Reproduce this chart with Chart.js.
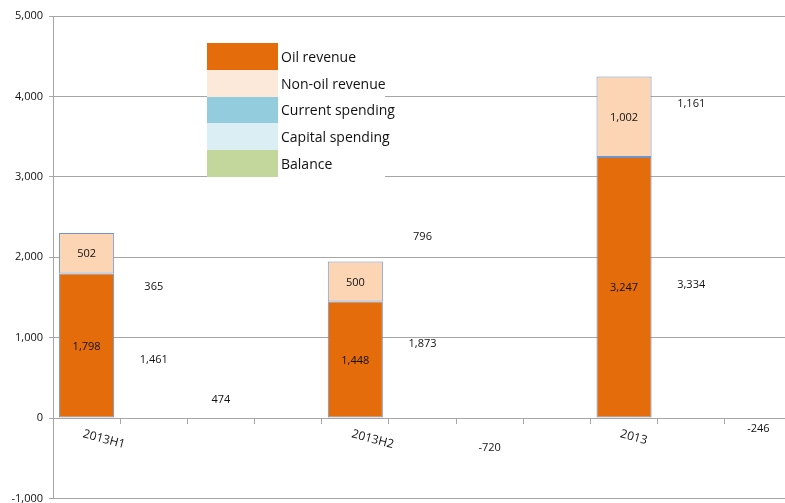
<!DOCTYPE html>
<html>
<head>
<meta charset="utf-8">
<script src="https://cdn.jsdelivr.net/npm/chart.js@4/dist/chart.umd.min.js"></script>
<style>
  html, body { margin: 0; padding: 0; overflow: hidden; background: #fff; }
  #wrap { position: relative; width: 800px; height: 511px; }
  #legend { position: absolute; left: 207px; top: 43px; width: 178px; background: #fff;
            font-family: "Open Sans", sans-serif; font-size: 14px; color: #111; }
  .row { display: flex; align-items: center; height: 26.8px; white-space: nowrap; }
  .sw { flex: 0 0 71px; width: 71px; height: 100%; margin-right: 3px; }
</style>
</head>
<body>
<div id="wrap">
  <canvas id="c"></canvas>
  <div id="legend"></div>
</div>
<script>
// ---- data ----
const periods = ['2013H1', '2013H2', '2013'];
const oilRevenue = [1798, 1448, 3247];
const nonOilRevenue = [502, 500, 1002];
const currentSpending = [1461, 1873, 3334];
const capitalSpending = [365, 796, 1161];
const balance = [474, -720, -246];
const seriesNames = ['Oil revenue', 'Non-oil revenue', 'Current spending', 'Capital spending', 'Balance'];
const legendColors = ['#E46C0A', '#FDE9DA', '#93CDDD', '#DBEEF4', '#C3D69B'];
const yTicks = [-1000, 0, 1000, 2000, 3000, 4000, 5000];

// each period occupies 4 slots: revenue, spending, balance, gap (last gap dropped)
const slotsPer = 4;
const nSlots = periods.length * slotsPer - 1;
const categories = [];
for (let i = 0; i < nSlots; i++) categories.push(i % slotsPer === 0 ? periods[i / slotsPer] : '');
function place(values, offset) {
  const arr = new Array(nSlots).fill(null);
  values.forEach((v, p) => { arr[p * slotsPer + offset] = v; });
  return arr;
}

const fmt = v => Math.round(v).toLocaleString('en-US');
const TEXT = '#111';
const GRID = '#A6A6A6';
const FONT = '"Open Sans", sans-serif';

const barBorder = '#7094CC';
const datasets = [
  { label: seriesNames[0], data: place(oilRevenue, 0), backgroundColor: '#E46C0A', borderColor: barBorder, borderWidth: 1, borderSkipped: false },
  { label: seriesNames[1], data: place(nonOilRevenue, 0), backgroundColor: '#FCD5B5', borderColor: barBorder, borderWidth: 1, borderSkipped: false },
  { label: seriesNames[2], data: place(currentSpending, 1), backgroundColor: 'rgba(0,0,0,0)', borderWidth: 0 },
  { label: seriesNames[3], data: place(capitalSpending, 1), backgroundColor: 'rgba(0,0,0,0)', borderWidth: 0 },
  { label: seriesNames[4], data: place(balance, 2), backgroundColor: 'rgba(0,0,0,0)', borderWidth: 0 }
];

// legend (HTML)
const lg = document.getElementById('legend');
seriesNames.forEach((n, i) => {
  const r = document.createElement('div'); r.className = 'row';
  const s = document.createElement('div'); s.className = 'sw'; s.style.background = legendColors[i];
  const t = document.createElement('span'); t.textContent = n;
  r.appendChild(s); r.appendChild(t); lg.appendChild(r);
});

const labelPlugin = {
  id: 'labels',
  afterDatasetsDraw(chart) {
    const ctx = chart.ctx;
    ctx.save();
    ctx.font = '11px ' + FONT;
    ctx.fillStyle = TEXT;
    ctx.textAlign = 'center';
    ctx.textBaseline = 'middle';
    chart.data.datasets.forEach((ds, di) => {
      const meta = chart.getDatasetMeta(di);
      meta.data.forEach((el, i) => {
        const v = ds.data[i];
        if (v === null || v === undefined) return;
        const p = el.getProps(['x', 'y', 'base'], true);
        ctx.fillText(fmt(v), p.x, (p.y + p.base) / 2 + 1);
      });
    });
    // rotated category labels
    const xs = chart.scales.x, ys = chart.scales.y;
    const y0 = ys.getPixelForValue(0);
    ctx.font = '12px ' + FONT;
    ctx.textAlign = 'left';
    ctx.textBaseline = 'top';
    categories.forEach((c, i) => {
      if (!c) return;
      ctx.save();
      ctx.translate(xs.getPixelForValue(i) - 2, y0 + 10);
      ctx.rotate(15 * Math.PI / 180);
      ctx.fillText(c, 0, 0);
      ctx.restore();
    });
    ctx.restore();
  }
};

new Chart(document.getElementById('c'), {
  type: 'bar',
  data: { labels: categories, datasets },
  options: {
    responsive: true,
    maintainAspectRatio: false,
    animation: false,
    layout: { padding: { top: 16, right: 8, bottom: 6, left: 0 } },
    plugins: { legend: { display: false }, tooltip: { enabled: false } },
    datasets: { bar: { categoryPercentage: 1, barPercentage: 0.82 } },
    scales: {
      x: {
        stacked: true,
        position: { y: 0 },
        offset: true,
        afterFit: s => { s.height = 0; },
        grid: { offset: true, drawOnChartArea: false, drawTicks: true, tickLength: 5, color: GRID },
        border: { display: true, color: GRID },
        ticks: { display: false, padding: 0 }
      },
      y: {
        stacked: true,
        min: -1000, max: 5000,
        afterBuildTicks: s => { s.ticks = yTicks.map(v => ({ value: v })); },
        afterFit: s => { s.width = 53; },
        grid: { color: GRID, tickLength: 4 },
        border: { display: true, color: GRID },
        ticks: { color: TEXT, font: { family: FONT, size: 11 }, padding: 6, callback: v => fmt(v) }
      }
    }
  },
  plugins: [labelPlugin]
});
</script>
</body>
</html>
